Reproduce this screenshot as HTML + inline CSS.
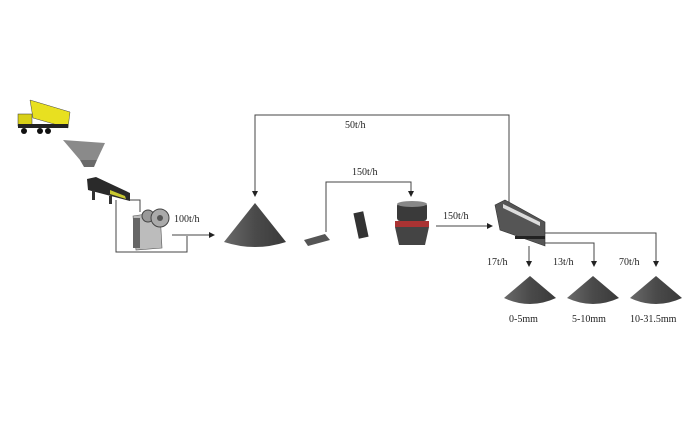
<!DOCTYPE html>
<html><head><style>html,body{margin:0;padding:0;background:#fff;}svg{display:block}</style></head>
<body>
<svg width="700" height="436" viewBox="0 0 700 436" xmlns="http://www.w3.org/2000/svg" font-family="Liberation Serif, serif" font-size="10" fill="#222">
<defs><marker id="a" markerWidth="6" markerHeight="6" refX="5" refY="3" orient="auto"><path d="M0,0 L6,3 L0,6z" fill="#222"/></marker>
<linearGradient id="c" x1="0" x2="1"><stop offset="0" stop-color="#6a6a6a"/><stop offset="0.5" stop-color="#4a4a4a"/><stop offset="1" stop-color="#3a3a3a"/></linearGradient></defs>
<g stroke="#444" stroke-width="1" fill="none">
<!-- 50t/h loop -->
<path d="M509,205 V115 H255 V196" marker-end="url(#a)"/>
<!-- 150t/h loop -->
<path d="M326,232 V182 H411 V196" marker-end="url(#a)"/>
<path d="M436,226 H492" marker-end="url(#a)"/>
<!-- feeder/crusher -->
<path d="M116,200 V252 H187 V236"/>
<path d="M129,200 H140 V212"/>
<path d="M172,235 H214" marker-end="url(#a)"/>
<!-- screen outputs -->
<path d="M529,246 V266" marker-end="url(#a)"/>
<path d="M543,243 H594 V266" marker-end="url(#a)"/>
<path d="M543,233 H656 V266" marker-end="url(#a)"/>
</g>
<text x="345" y="128">50t/h</text>
<text x="352" y="175">150t/h</text>
<text x="443" y="219">150t/h</text>
<text x="174" y="222">100t/h</text>
<text x="487" y="265">17t/h</text>
<text x="553" y="265">13t/h</text>
<text x="619" y="265">70t/h</text>
<text x="509" y="322">0-5mm</text>
<text x="572" y="322">5-10mm</text>
<text x="630" y="322">10-31.5mm</text>
<!-- cones -->
<path d="M255,203 L224,242 Q255,252 286,242Z" fill="url(#c)"/>
<path d="M530,276 L504,298 Q530,310 556,298Z" fill="url(#c)"/>
<path d="M593,276 L567,298 Q593,310 619,298Z" fill="url(#c)"/>
<path d="M656,276 L630,298 Q656,310 682,298Z" fill="url(#c)"/>
<!-- truck -->
<path d="M30,100 L70,112 L68,128 L33,118Z" fill="#e8e020" stroke="#444" stroke-width="0.5"/>
<rect x="18" y="114" width="14" height="12" fill="#d8d018" stroke="#333" stroke-width="0.5"/>
<rect x="18" y="124" width="50" height="4" fill="#222"/>
<circle cx="24" cy="131" r="3" fill="#111"/><circle cx="40" cy="131" r="3" fill="#111"/><circle cx="48" cy="131" r="3" fill="#111"/>
<!-- hopper -->
<path d="M63,140 L105,143 L97,160 L80,160Z" fill="#8a8a8a"/>
<path d="M80,160 L97,160 L94,167 L84,167Z" fill="#6a6a6a"/>
<!-- feeder -->
<path d="M87,179 L96,177 L130,193 L130,201 L88,190Z" fill="#2a2a2a"/>
<path d="M110,190 L125,196 L126,199 L110,194Z" fill="#c8c830"/>
<rect x="92" y="190" width="3" height="10" fill="#333"/><rect x="109" y="196" width="3" height="8" fill="#333"/>
<!-- jaw crusher -->
<path d="M133,216 L160,212 L162,248 L136,250Z" fill="#bcbcbc" stroke="#555" stroke-width="0.6"/>
<rect x="133" y="218" width="7" height="30" fill="#666"/>
<circle cx="148" cy="216" r="6" fill="#999" stroke="#444"/>
<circle cx="160" cy="218" r="9" fill="#aaa" stroke="#444"/>
<circle cx="160" cy="218" r="3" fill="#555"/>
<!-- small crusher + mid machine -->
<path d="M304,240 L325,234 L330,240 L308,246Z" fill="#555"/>
<rect x="356" y="212" width="10" height="26" fill="#333" transform="rotate(-12 361 225)"/>
<!-- cone crusher -->
<rect x="397" y="203" width="30" height="18" rx="3" fill="#3a3a3a"/>
<ellipse cx="412" cy="204" rx="15" ry="3" fill="#888"/>
<rect x="395" y="221" width="34" height="6" fill="#a33"/>
<path d="M395,227 H429 L425,245 H399Z" fill="#444"/>
<!-- screen -->
<path d="M495,205 L505,200 L545,222 L545,246 L500,230Z" fill="#555" stroke="#333" stroke-width="0.6"/>
<path d="M503,204 L540,222 L540,226 L503,208Z" fill="#ddd"/>
<rect x="515" y="236" width="30" height="3" fill="#222"/>
</svg>
</body></html>
